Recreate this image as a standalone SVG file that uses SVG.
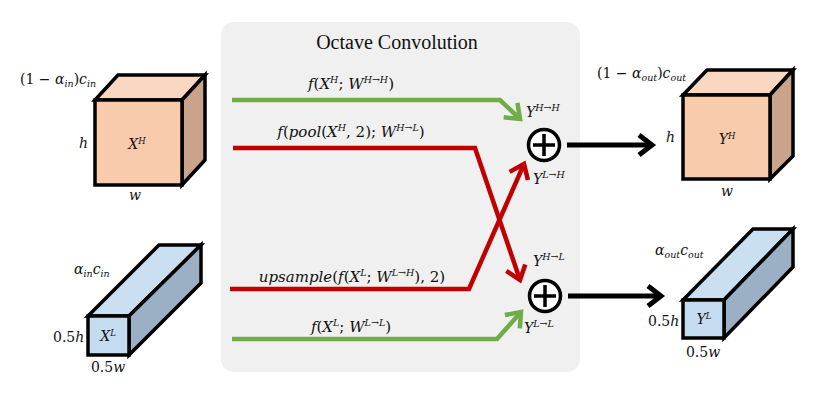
<svg xmlns="http://www.w3.org/2000/svg" width="828" height="401" viewBox="0 0 828 401">
<style>
.t{font-family:"DejaVu Serif","Liberation Serif",serif;font-size:14px;fill:#111}
.l{font-size:15px}
.i{font-style:italic}
.s{font-size:9.5px;font-style:italic}
.title{font-family:"Liberation Serif","DejaVu Serif",serif;font-size:20px;fill:#111}
.edge{stroke:#000;stroke-width:3.5;stroke-linejoin:miter}
.g{fill:none;stroke:#70AD47;stroke-width:4.5}
.r{fill:none;stroke:#C00000;stroke-width:4.5}
.k{fill:none;stroke:#000;stroke-width:5}
</style>
<defs>
<marker id="ag" markerUnits="userSpaceOnUse" markerWidth="30" markerHeight="30" viewBox="-20 -15 30 30" refX="0" refY="0" orient="auto" overflow="visible">
<path d="M-13,-10 L0,0 L-13,10" fill="none" stroke="#70AD47" stroke-width="4.5"/>
</marker>
<marker id="ar" markerUnits="userSpaceOnUse" markerWidth="30" markerHeight="30" viewBox="-20 -15 30 30" refX="0" refY="0" orient="auto" overflow="visible">
<path d="M-13,-10 L0,0 L-13,10" fill="none" stroke="#C00000" stroke-width="4.5"/>
</marker>
<marker id="ak" markerUnits="userSpaceOnUse" markerWidth="30" markerHeight="30" viewBox="-20 -15 30 30" refX="0" refY="0" orient="auto" overflow="visible">
<path d="M-13,-10 L0,0 L-13,10" fill="none" stroke="#000" stroke-width="5"/>
</marker>
</defs>
<rect width="828" height="401" fill="#fff"/>

<g id="panel">
<rect x="221" y="22" width="359" height="350" rx="13" fill="#F0F0F0"/>
<text class="title" x="397" y="49" text-anchor="middle">Octave Convolution</text>
</g>

<g id="XH">
<polygon class="edge" points="95,100 118,75 205,75 182,100" fill="#FAD7C0"/>
<polygon class="edge" points="182,100 205,75 205,160 182,185" fill="#C9A48B"/>
<rect class="edge" x="95" y="100" width="87" height="85" fill="#F8CBAD"/>
<text class="t" x="137" y="149" text-anchor="middle"><tspan class="i">X</tspan><tspan dy="-5" font-size="8.5" class="i">H</tspan></text>
<text class="t i" x="79" y="148">h</text>
<text class="t i" x="135" y="200" text-anchor="middle">w</text>
<text class="t" x="20" y="84">(1 − <tspan class="i">α</tspan><tspan class="s" dy="3">in</tspan><tspan dy="-3">)</tspan><tspan class="i">c</tspan><tspan class="s" dy="3">in</tspan></text>
</g>

<g id="XL">
<polygon class="edge" points="88,316 159,245 201,245 129,316" fill="#CADFF2"/>
<polygon class="edge" points="129,316 201,245 201,283 129,355" fill="#9BB0C4"/>
<rect class="edge" x="88" y="316" width="41" height="39" fill="#C5DCF0"/>
<text class="t" x="108" y="341" text-anchor="middle"><tspan class="i">X</tspan><tspan dy="-5" font-size="8.5" class="i">L</tspan></text>
<text class="t" x="53" y="342">0.5<tspan class="i">h</tspan></text>
<text class="t" x="108" y="372" text-anchor="middle">0.5<tspan class="i">w</tspan></text>
<text class="t" x="74" y="274"><tspan class="i">α</tspan><tspan class="s" dy="3">in</tspan><tspan class="i" dy="-3">c</tspan><tspan class="s" dy="3">in</tspan></text>
</g>

<g id="YH">
<polygon class="edge" points="683,95 707,70 793,70 770,95" fill="#FAD7C0"/>
<polygon class="edge" points="770,95 793,70 793,156 770,179" fill="#C9A48B"/>
<rect class="edge" x="683" y="95" width="87" height="84" fill="#F8CBAD"/>
<text class="t" x="727" y="144" text-anchor="middle"><tspan class="i">Y</tspan><tspan dy="-5" font-size="8.5" class="i">H</tspan></text>
<text class="t i" x="666" y="142">h</text>
<text class="t i" x="727" y="196" text-anchor="middle">w</text>
<text class="t" x="597" y="78">(1 − <tspan class="i">α</tspan><tspan class="s" dy="3">out</tspan><tspan dy="-3">)</tspan><tspan class="i">c</tspan><tspan class="s" dy="3">out</tspan></text>
</g>

<g id="YL">
<polygon class="edge" points="683,300 753,229 793,229 724,300" fill="#CADFF2"/>
<polygon class="edge" points="724,300 793,229 793,267 724,338" fill="#9BB0C4"/>
<rect class="edge" x="683" y="300" width="41" height="38" fill="#C5DCF0"/>
<text class="t" x="704" y="324" text-anchor="middle"><tspan class="i">Y</tspan><tspan dy="-5" font-size="8.5" class="i">L</tspan></text>
<text class="t" x="648" y="326">0.5<tspan class="i">h</tspan></text>
<text class="t" x="703" y="357" text-anchor="middle">0.5<tspan class="i">w</tspan></text>
<text class="t" x="655" y="255"><tspan class="i">α</tspan><tspan class="s" dy="3">out</tspan><tspan class="i" dy="-3">c</tspan><tspan class="s" dy="3">out</tspan></text>
</g>

<g id="sumH">
<circle cx="544" cy="145" r="15.5" fill="#fff" stroke="#000" stroke-width="3.5"/>
<path d="M533,145 H555 M544,134 V156" stroke="#000" stroke-width="3.5"/>
</g>
<g id="sumL">
<circle cx="545" cy="296" r="15.5" fill="#fff" stroke="#000" stroke-width="3.5"/>
<path d="M534,296 H556 M545,285 V307" stroke="#000" stroke-width="3.5"/>
</g>

<g id="connectors">
<polyline class="g" points="232,100 500,100 520,119" marker-end="url(#ag)"/>
<polyline class="r" points="233,148 475,148 520,280" marker-end="url(#ar)"/>
<polyline class="r" points="230,289 469,289 524,164" marker-end="url(#ar)"/>
<polyline class="g" points="232,339 497,339 521,312" marker-end="url(#ag)"/>
<line class="k" x1="567" y1="145" x2="652" y2="145" marker-end="url(#ak)"/>
<line class="k" x1="568" y1="296" x2="661" y2="296" marker-end="url(#ak)"/>
</g>

<g id="labels">
<text class="t l" x="351" y="89" text-anchor="middle"><tspan class="i">f</tspan>(<tspan class="i">X</tspan><tspan class="s" dy="-6">H</tspan><tspan dy="6">; </tspan><tspan class="i">W</tspan><tspan class="s" dy="-6">H→H</tspan><tspan dy="6">)</tspan></text>
<text class="t l" x="351" y="137" text-anchor="middle"><tspan class="i">f</tspan>(<tspan class="i">pool</tspan>(<tspan class="i">X</tspan><tspan class="s" dy="-6">H</tspan><tspan dy="6">, 2); </tspan><tspan class="i">W</tspan><tspan class="s" dy="-6">H→L</tspan><tspan dy="6">)</tspan></text>
<text class="t l" x="352" y="282" text-anchor="middle"><tspan class="i">upsample</tspan>(<tspan class="i">f</tspan>(<tspan class="i">X</tspan><tspan class="s" dy="-6">L</tspan><tspan dy="6">; </tspan><tspan class="i">W</tspan><tspan class="s" dy="-6">L→H</tspan><tspan dy="6">), 2)</tspan></text>
<text class="t l" x="351" y="332" text-anchor="middle"><tspan class="i">f</tspan>(<tspan class="i">X</tspan><tspan class="s" dy="-6">L</tspan><tspan dy="6">; </tspan><tspan class="i">W</tspan><tspan class="s" dy="-6">L→L</tspan><tspan dy="6">)</tspan></text>
<text class="t" x="526" y="117"><tspan class="i">Y</tspan><tspan class="s" dy="-6">H→H</tspan></text>
<text class="t" x="533" y="184"><tspan class="i">Y</tspan><tspan class="s" dy="-6">L→H</tspan></text>
<text class="t" x="533" y="266"><tspan class="i">Y</tspan><tspan class="s" dy="-6">H→L</tspan></text>
<text class="t" x="524" y="333"><tspan class="i">Y</tspan><tspan class="s" dy="-6">L→L</tspan></text>
</g>
</svg>
